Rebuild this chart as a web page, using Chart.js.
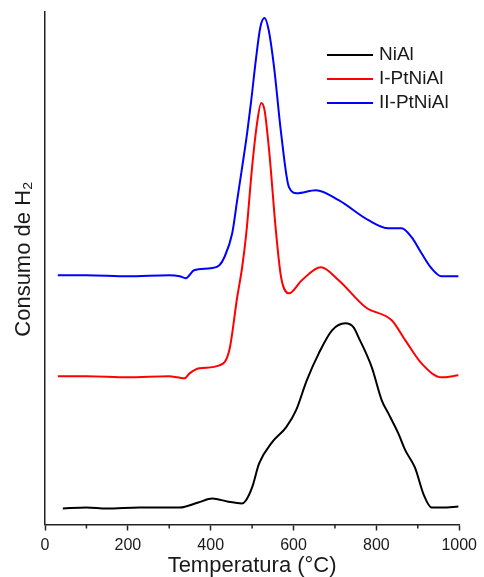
<!DOCTYPE html>
<html>
<head>
<meta charset="utf-8">
<script src="https://cdn.jsdelivr.net/npm/chart.js@4.4.0/dist/chart.umd.min.js"></script>
<style>
  html, body { margin: 0; padding: 0; background: #fff; }
</style>
</head>
<body>
<canvas id="tprChart" width="484" height="577"></canvas>
<script>
// TPR-H2 profiles, signal in arbitrary units (curves offset as in the figure)
const niAlTemp = [43, 100, 149, 228, 325, 370, 404, 440, 475, 485, 500, 517, 548, 582, 606, 632, 661, 693, 725, 745, 757, 789, 813, 829, 853, 870, 893, 915, 933, 960, 998];
const niAlSignal = [16, 17, 16, 17, 17, 22, 26, 23, 21, 24, 37, 61, 82, 97, 114, 144, 171, 194, 201, 197, 187, 157, 124, 111, 91, 74, 57, 29, 17, 17, 18];

const ptNiAl1Temp = [31, 100, 200, 300, 320, 337, 349, 373, 421, 445, 464, 476, 486, 500, 512, 522, 530, 541, 558, 570, 589, 620, 666, 709, 774, 837, 870, 909, 957, 998];
const ptNiAl1Signal = [148, 148, 147, 148, 147, 146, 151, 156, 159, 174, 227, 257, 291, 357, 401, 421, 414, 374, 291, 247, 231, 244, 257, 244, 217, 204, 184, 161, 147, 149];

const ptNiAl2Temp = [31, 100, 200, 300, 325, 340, 360, 400, 421, 433, 452, 464, 476, 488, 498, 509, 520, 530, 540, 553, 570, 589, 608, 654, 709, 781, 829, 861, 885, 909, 933, 957, 998];
const ptNiAl2Signal = [249, 249, 248, 249, 248, 246, 254, 256, 259, 267, 291, 324, 357, 391, 424, 464, 497, 506, 494, 457, 391, 337, 331, 334, 324, 304, 296, 296, 287, 271, 256, 248, 248];

const seriesLabels = ['NiAl', 'I-PtNiAl', 'II-PtNiAl'];
const seriesColors = ['#000000', '#ff0000', '#0000ff'];
const minorTicks = [100, 300, 500, 700, 900];

const toPoints = (xs, ys) => xs.map((x, i) => ({ x, y: ys[i] }));

// short minor ticks + legend inside the plot
const extrasPlugin = {
  id: 'extras',
  afterDraw(chart) {
    const { ctx, scales: { x } } = chart;
    ctx.save();
    ctx.strokeStyle = '#222';
    ctx.lineWidth = 1.5;
    minorTicks.forEach((t) => {
      const px = x.getPixelForValue(t);
      ctx.beginPath();
      ctx.moveTo(px, x.top);
      ctx.lineTo(px, x.top + 4);
      ctx.stroke();
    });

    ctx.font = '19px "Liberation Sans", Arial, sans-serif';
    ctx.textBaseline = 'middle';
    chart.data.datasets.forEach((ds, i) => {
      const y = 55 + i * 24;
      ctx.strokeStyle = ds.borderColor;
      ctx.lineWidth = 2;
      ctx.beginPath();
      ctx.moveTo(327, y);
      ctx.lineTo(373, y);
      ctx.stroke();
      ctx.fillStyle = '#1a1a1a';
      ctx.fillText(ds.label, 379, y);
    });
    ctx.restore();
  },
};

const ctx = document.getElementById('tprChart').getContext('2d');
// eslint-disable-next-line no-undef, no-unused-vars
const chart = new Chart(ctx, {
  type: 'line',
  data: {
    datasets: [
      { label: seriesLabels[0], data: toPoints(niAlTemp, niAlSignal), borderColor: seriesColors[0] },
      { label: seriesLabels[1], data: toPoints(ptNiAl1Temp, ptNiAl1Signal), borderColor: seriesColors[1] },
      { label: seriesLabels[2], data: toPoints(ptNiAl2Temp, ptNiAl2Signal), borderColor: seriesColors[2] },
    ],
  },
  options: {
    responsive: false,
    animation: false,
    events: [],
    layout: { padding: { left: 13, top: 12, right: 16, bottom: 0 } },
    elements: {
      point: { radius: 0 },
      line: { borderWidth: 2, cubicInterpolationMode: 'monotone', fill: false },
    },
    plugins: {
      legend: { display: false },
      tooltip: { enabled: false },
    },
    scales: {
      x: {
        type: 'linear',
        min: 0,
        max: 1000,
        border: { display: true, color: '#222', width: 1.5 },
        grid: { display: true, drawOnChartArea: false, drawTicks: true, tickLength: 6, tickColor: '#222', tickWidth: 1.5 },
        ticks: {
          stepSize: 200,
          padding: 7,
          color: '#1a1a1a',
          callback: (v) => String(v),
          font: { family: '"Liberation Sans", Arial, sans-serif', size: 16, lineHeight: 1 },
        },
        title: {
          display: true,
          text: 'Temperatura (°C)',
          color: '#1a1a1a',
          padding: { top: 0, bottom: 5.5 },
          font: { family: '"Liberation Sans", Arial, sans-serif', size: 22, lineHeight: 0.5 },
        },
      },
      y: {
        min: 0,
        max: 512,
        border: { display: true, color: '#222', width: 1.5 },
        grid: { display: false, drawTicks: false },
        ticks: { display: false },
        title: {
          display: true,
          text: '   Consumo de H₂',
          color: '#1a1a1a',
          padding: { top: 0, bottom: 10 },
          font: { family: '"Liberation Sans", Arial, sans-serif', size: 22, lineHeight: 1 },
        },
      },
    },
  },
  plugins: [extrasPlugin],
});
</script>
</body>
</html>
